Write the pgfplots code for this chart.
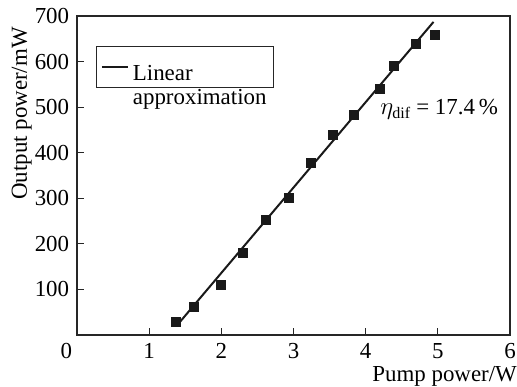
\documentclass[border=0pt]{standalone}
\usepackage{fontspec}
\setmainfont{Liberation Serif}
\usepackage{pgfplots}
\pgfplotsset{compat=1.18}
\begin{document}
\fontsize{23}{24}\selectfont
\begin{tikzpicture}
\begin{axis}[
  scale only axis, width=433bp, height=319bp,
  xmin=0, xmax=6, ymin=0, ymax=700,
  axis line style={line width=1.8bp, color=black!85},
  xtick={0,1,2,3,4,5,6},
  xticklabels={\makebox[0pt][r]{0\hspace{5bp}},1,2,3,4,5,6},
  ytick={100,200,300,400,500,600,700},
  tick align=inside, xtick pos=left, ytick pos=left,
  major tick length=7bp,
  tick style={line width=1.2bp, black!85},
  font=\fontsize{23}{24}\selectfont,
  /pgf/number format/assume math mode=true,
  xticklabel style={inner sep=0.5bp, yshift=-8bp},
  xlabel={Pump power/W},
  ylabel={Output power/mW},
  xlabel style={at={([xshift=7bp,yshift=-46.5bp]axis description cs:1,0)}, anchor=base east, inner sep=0pt},
  ylabel style={at={([xshift=-45bp,yshift=-11bp]axis description cs:0,1)}, anchor=south east, inner sep=0pt},
  legend style={at={(axis description cs:0.044,0.905)}, anchor=north west,
    draw=black!85, line width=0.7bp, inner xsep=4.5bp, inner ysep=1bp,
    font=\fontsize{23}{24}\selectfont},
  legend cell align=left,
  legend image code/.code={\draw[#1, line width=2bp] (2bp,0bp) -- (28bp,0bp);},
]
\addplot[black!90, line width=2bp] coordinates {(1.38,20) (4.94,687)};
\addlegendentry{\begin{tabular}[t]{@{\hspace{2bp}}l@{}}\rule{0pt}{31bp}Linear\\approximation\end{tabular}}
\addplot[only marks, mark=square*, mark size=4.5bp, black!90, forget plot] coordinates {
  (1.37,29) (1.62,61) (1.99,110) (2.29,181) (2.61,252) (2.93,302) (3.24,379)
  (3.54,440) (3.83,484) (4.20,540) (4.39,590) (4.69,640) (4.96,660)};
\node[anchor=base west, inner sep=0pt] at (axis cs:4.2,483) {$\eta_{\mathrm{dif}}$ = 17.4\,\%};
\end{axis}
\path ([xshift=-77bp,yshift=-50bp]current axis.south west) ([xshift=7bp,yshift=16bp]current axis.north east);
\end{tikzpicture}
\end{document}
